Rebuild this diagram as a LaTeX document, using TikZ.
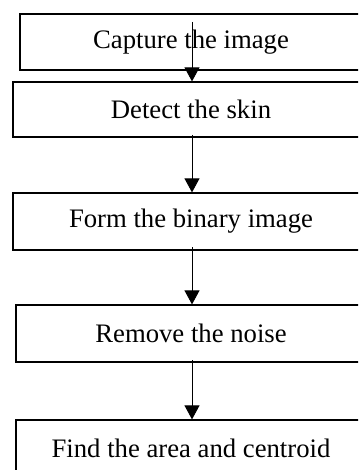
\documentclass[tikz,border=0pt]{standalone}
\usepackage{fontspec}
\setmainfont{Liberation Serif}
\usetikzlibrary{arrows.meta}
\begin{document}
\begin{tikzpicture}[x=1pt,y=-1pt,
  box/.style={draw,line width=1.2pt,rectangle,inner sep=0pt,font=\fontsize{26.7}{30}\selectfont},
  arr/.style={line width=0.9pt,-{Triangle[length=14pt,width=15pt]}}]
\useasboundingbox (0,0) rectangle (358,470);
\clip (0,0) rectangle (358,470);
\node[box,minimum width=342pt,minimum height=56pt] (b1) at (191,42) {Capture the image};
\node[box,minimum width=356pt,minimum height=55pt] (b2) at (191,109.5) {Detect the skin};
\node[box,minimum width=356pt,minimum height=57pt] (b3) at (191,221.5) {Form the binary image};
\node[box,minimum width=350pt,minimum height=57pt] (b4) at (191,333.5) {Remove the noise};
\node[box,minimum width=350pt,minimum height=57pt] (b5) at (191,448.5) {Find the area and centroid};
\coordinate (s1) at (192,22);
\coordinate (s2) at (192,135);
\coordinate (s3) at (192,247);
\coordinate (s4) at (192,360);
\draw[arr] (s1) -- (s1 |- b2.north);
\draw[arr] (s2) -- (s2 |- b3.north);
\draw[arr] (s3) -- (s3 |- b4.north);
\draw[arr] (s4) -- (s4 |- b5.north);
\end{tikzpicture}
\end{document}
